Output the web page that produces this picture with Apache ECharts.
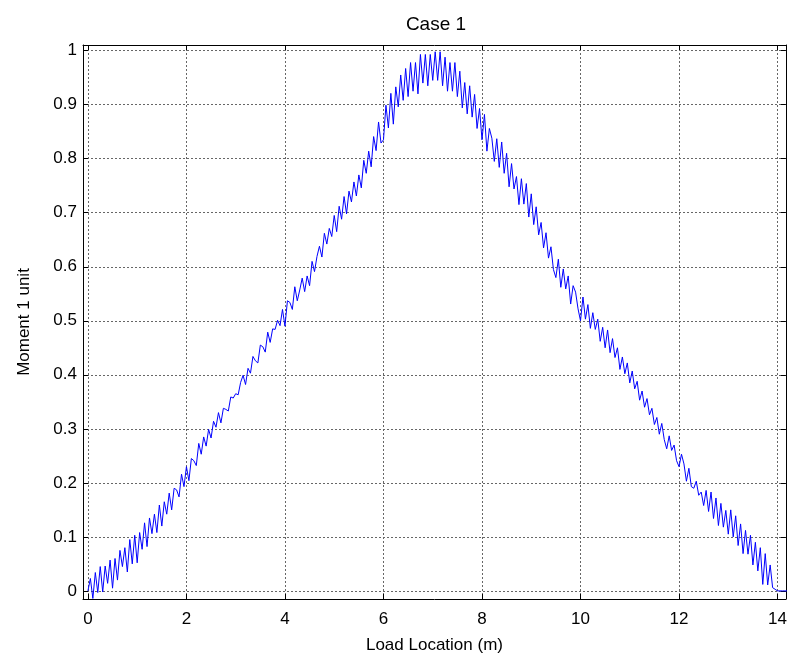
<!DOCTYPE html>
<html>
<head>
<meta charset="utf-8">
<title>Case 1</title>
<script src="https://cdn.jsdelivr.net/npm/echarts@6/dist/echarts.min.js"></script>
<style>
  html, body { margin: 0; padding: 0; background: #fff; }
  #chart { width: 790px; height: 659px; }
</style>
</head>
<body>
<div id="chart"></div>
<script>
// load position step (m) between samples
const loadStep = 0.05

// moment values, x = 0 .. 7.0
const momentRise = [
  0.000, 0.023, -0.014, 0.034, -0.003, 0.045, -0.002, 0.046, 0.014, 0.057,
  0.005, 0.060, 0.020, 0.075, 0.045, 0.080, 0.035, 0.095, 0.050, 0.103,
  0.052, 0.108, 0.077, 0.126, 0.082, 0.135, 0.106, 0.142, 0.108, 0.159,
  0.120, 0.165, 0.142, 0.181, 0.150, 0.190, 0.187, 0.174, 0.216, 0.193,
  0.230, 0.204, 0.245, 0.241, 0.232, 0.273, 0.253, 0.285, 0.268, 0.299,
  0.283, 0.314, 0.303, 0.330, 0.311, 0.338, 0.336, 0.333, 0.359, 0.357,
  0.365, 0.363, 0.386, 0.399, 0.382, 0.412, 0.403, 0.434, 0.426, 0.422,
  0.455, 0.452, 0.442, 0.479, 0.460, 0.485, 0.484, 0.501, 0.491, 0.521,
  0.490, 0.537, 0.534, 0.521, 0.563, 0.537, 0.557, 0.579, 0.554, 0.583,
  0.565, 0.610, 0.591, 0.619, 0.638, 0.618, 0.662, 0.642, 0.671, 0.656,
  0.695, 0.665, 0.712, 0.688, 0.730, 0.698, 0.740, 0.720, 0.757, 0.731,
  0.770, 0.746, 0.797, 0.773, 0.814, 0.785, 0.841, 0.815, 0.868, 0.829,
  0.835, 0.899, 0.857, 0.921, 0.864, 0.933, 0.896, 0.955, 0.908, 0.967,
  0.915, 0.978, 0.925, 0.978, 0.920, 0.993, 0.940, 0.993, 0.935, 0.993
]

// moment values, x = 7.0 .. 14.2
const momentFall = [
  0.945, 0.998, 0.945, 0.998, 0.935, 0.988, 0.925, 0.978, 0.925, 0.978,
  0.915, 0.962, 0.894, 0.941, 0.883, 0.935, 0.877, 0.919, 0.856, 0.893,
  0.835, 0.882, 0.814, 0.856, 0.838, 0.795, 0.837, 0.784, 0.831, 0.773,
  0.810, 0.748, 0.791, 0.744, 0.767, 0.715, 0.763, 0.716, 0.754, 0.692,
  0.735, 0.678, 0.711, 0.659, 0.682, 0.635, 0.663, 0.616, 0.637, 0.595,
  0.580, 0.614, 0.562, 0.596, 0.559, 0.583, 0.531, 0.565, 0.553, 0.522,
  0.500, 0.544, 0.503, 0.530, 0.486, 0.515, 0.484, 0.503, 0.462, 0.488,
  0.450, 0.483, 0.441, 0.467, 0.432, 0.450, 0.410, 0.433, 0.402, 0.422,
  0.385, 0.407, 0.374, 0.388, 0.353, 0.370, 0.340, 0.356, 0.326, 0.338,
  0.308, 0.321, 0.290, 0.310, 0.280, 0.263, 0.287, 0.260, 0.270, 0.241,
  0.230, 0.253, 0.235, 0.203, 0.227, 0.193, 0.190, 0.203, 0.177, 0.183,
  0.158, 0.186, 0.147, 0.183, 0.134, 0.172, 0.121, 0.162, 0.118, 0.149,
  0.105, 0.150, 0.100, 0.139, 0.084, 0.124, 0.069, 0.112, 0.068, 0.103,
  0.048, 0.090, 0.037, 0.080, 0.012, 0.069, 0.011, 0.048, 0.006, 0.003,
  0.000, 0.000, 0.000, 0.000, 0.000
]

// axis ranges
const xRange = [-0.1, 14.17]
const yRange = [-0.015, 1.0105]

const moment = momentRise.concat(momentFall)
const points = moment.map((v, i) => [+(i * loadStep).toFixed(2), v])

const font = 'Liberation Sans, Arial, sans-serif'
const gridLine = { show: true, lineStyle: { color: '#666', type: [2, 2], width: 1 } }
const boxLine = { show: true, onZero: false, lineStyle: { color: '#000', width: 1 } }
const tick = { show: true, inside: true, length: 5, lineStyle: { color: '#000' } }

const chart = echarts.init(document.getElementById('chart'))
chart.setOption({
  animation: false,
  title: {
    text: 'Case 1',
    left: 431,
    top: 10,
    textAlign: 'center',
    textStyle: { fontFamily: font, fontSize: 19, fontWeight: 'normal', color: '#000' }
  },
  grid: { left: 83, right: 3, top: 45, bottom: 60, containLabel: false },
  xAxis: [
    {
      type: 'value',
      min: xRange[0],
      max: xRange[1],
      splitNumber: 7,
      name: 'Load Location (m)',
      nameLocation: 'middle',
      nameGap: 38,
      nameTextStyle: { fontFamily: font, fontSize: 17, color: '#000' },
      axisLine: boxLine,
      axisTick: tick,
      splitLine: gridLine,
      axisLabel: {
        fontFamily: font, fontSize: 17, color: '#000', margin: 12,
        showMinLabel: false, showMaxLabel: false
      }
    },
    {
      type: 'value',
      position: 'top',
      min: xRange[0],
      max: xRange[1],
      splitNumber: 7,
      axisLine: boxLine,
      axisTick: tick,
      splitLine: { show: false },
      axisLabel: { show: false }
    }
  ],
  yAxis: [
    {
      type: 'value',
      min: yRange[0],
      max: yRange[1],
      splitNumber: 10,
      name: 'Moment 1 unit',
      nameLocation: 'middle',
      nameGap: 50,
      nameTextStyle: { fontFamily: font, fontSize: 17, color: '#000' },
      axisLine: boxLine,
      axisTick: tick,
      splitLine: gridLine,
      axisLabel: {
        fontFamily: font, fontSize: 17, color: '#000', margin: 6,
        showMinLabel: false, showMaxLabel: false
      }
    },
    {
      type: 'value',
      position: 'right',
      min: yRange[0],
      max: yRange[1],
      splitNumber: 10,
      axisLine: boxLine,
      axisTick: tick,
      splitLine: { show: false },
      axisLabel: { show: false }
    }
  ],
  series: [
    {
      type: 'line',
      xAxisIndex: 0,
      yAxisIndex: 0,
      data: points,
      showSymbol: false,
      symbol: 'none',
      clip: true,
      lineStyle: { color: '#0000ff', width: 1 }
    }
  ]
})
</script>
</body>
</html>
